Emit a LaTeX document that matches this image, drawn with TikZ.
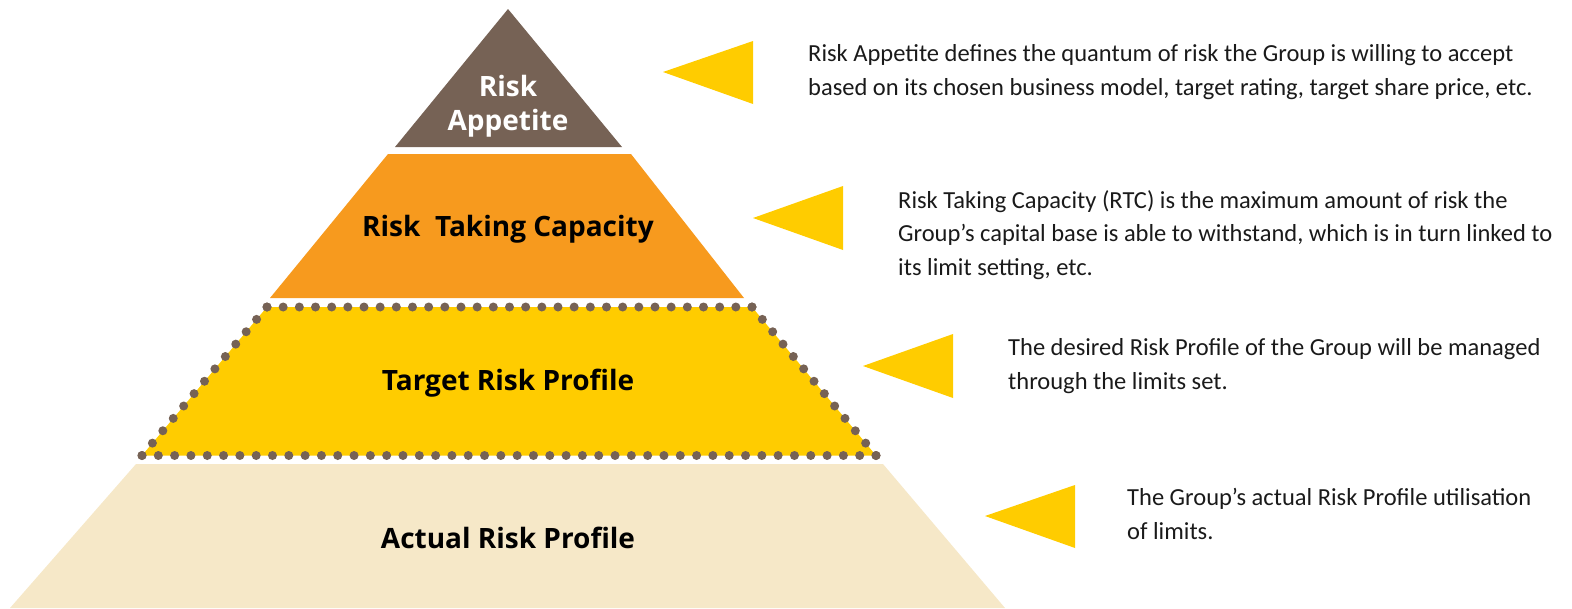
\documentclass[tikz,border=0pt]{standalone}
\usepackage{fontspec}
\setmainfont{Carlito}
\newfontfamily\labelfont{Open Sans}
\usetikzlibrary{calc}
\definecolor{rbrown}{HTML}{766255}
\definecolor{rorange}{HTML}{F79A1E}
\definecolor{ryellow}{HTML}{FFCC00}
\definecolor{rbeige}{HTML}{F6E8C8}
\definecolor{rtext}{HTML}{1A1A1A}
\tikzset{
  label/.style={font=\labelfont\fontsize{28}{34}\selectfont\bfseries, text=black, align=center, inner sep=0pt},
  desc/.style={font=\fontsize{24.5}{33.5}\selectfont, text=rtext, align=left, anchor=base west, inner sep=0pt},
  pointer/.style={fill=ryellow},
  dotmark/.style={fill=rbrown},
}
\begin{document}
\begin{tikzpicture}[x=1pt,y=-1pt]
\useasboundingbox (0,0) rectangle (1572,608);
% layers
\fill[rbrown] (508,9) -- (622,147) -- (395,147) -- cycle;
\fill[rorange] (388,154) -- (631,154) -- (744,298) -- (270,298) -- cycle;
\coordinate (tl) at (267,307);
\coordinate (tr) at (752,307);
\coordinate (br) at (876,455.5);
\coordinate (bl) at (142,455.5);
\fill[ryellow] (tl) -- (tr) -- (br) -- (bl) -- cycle;
\fill[rbeige] (136,464) -- (883,464) -- (1005,608) -- (10,608) -- cycle;
% dotted border
\foreach \a/\b/\n in {tl/tr/30, tr/br/12, br/bl/45, bl/tl/12}{
  \foreach \i in {0,...,\n}{
    \fill[dotmark] ($(\a)!\i/\n!(\b)$) circle (4.5);
  }
}
% labels
\node[label, text=white] (ra) at (508,106) {Risk\\Appetite};
\node[label] (rtc) at (508,229) {Risk\ \ Taking Capacity};
\node[label] (trp) at (508,383) {Target Risk Profile};
\node[label] (arp) at (508,538) {Actual Risk Profile};
% pointers
\fill[pointer] (663,72) -- (753,41) -- (753,104) -- cycle;
\fill[pointer] (753,218) -- (843,186) -- (843,250) -- cycle;
\fill[pointer] (863,366) -- (953,334) -- (953,398) -- cycle;
\fill[pointer] (985,516) -- (1075,485) -- (1075,548) -- cycle;
% descriptions (anchored at the baseline of the last line)
\node[desc] (d1) at (808,95) {Risk Appetite defines the quantum of risk the Group is willing to accept\\based on its chosen business model, target rating, target share price, etc.};
\node[desc] (d2) at (898,275) {Risk Taking Capacity (RTC) is the maximum amount of risk the\\Group’s capital base is able to withstand, which is in turn linked to\\its limit setting, etc.};
\node[desc] (d3) at (1008,389) {The desired Risk Profile of the Group will be managed\\through the limits set.};
\node[desc] (d4) at (1127,539) {The Group’s actual Risk Profile utilisation\\of limits.};
\end{tikzpicture}
\end{document}
